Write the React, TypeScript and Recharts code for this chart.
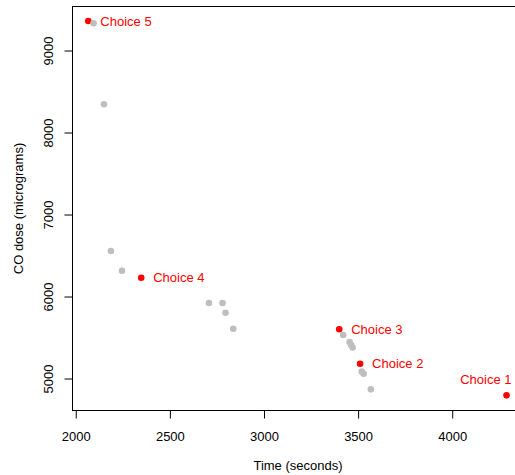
import React from "react";
import {
  ScatterChart,
  Scatter,
  XAxis,
  YAxis,
} from "recharts";

// highlighted choices (red, labelled)
const choiceNames = ["Choice 1", "Choice 2", "Choice 3", "Choice 4", "Choice 5"];
const choiceTime = [4286, 3508, 3397, 2345, 2064];
const choiceDose = [4801, 5187, 5606, 6235, 9366];

// the rest of the options (grey)
const otherTime = [2092, 2147, 2184, 2243, 2705, 2777, 2793, 2834, 3418, 3452, 3460, 3468, 3517, 3527, 3565];
const otherDose = [9338, 8350, 6561, 6321, 5927, 5927, 5809, 5613, 5537, 5450, 5415, 5385, 5090, 5065, 4874];

const xTicks = [2000, 2500, 3000, 3500, 4000];
const yTicks = [5000, 6000, 7000, 8000, 9000];

// labels drawn above the point instead of to the right
const labelAbove = ["Choice 1"];

const choices = choiceNames.map((name, i) => ({ name, time: choiceTime[i], dose: choiceDose[i] }));
const others = otherTime.map((time, i) => ({ time, dose: otherDose[i] }));

const FONT = "'Liberation Sans', Arial, Helvetica, sans-serif";
const X_DOMAIN = [1980, 4376];
const Y_DOMAIN = [4616, 9543];

const ChoiceDot = (props: any) => {
  const { cx, cy, payload } = props;
  const above = labelAbove.includes(payload.name);
  return (
    <g>
      <circle cx={cx} cy={cy} r={3.3} fill="#FF0000" />
      <text
        x={above ? cx + 5 : cx + 12}
        y={above ? cy - 11 : cy + 4.7}
        textAnchor={above ? "end" : "start"}
        fill="#FF0000"
        fontSize={13}
        fontFamily={FONT}
      >
        {payload.name}
      </text>
    </g>
  );
};

const GreyDot = (props: any) => (
  <circle cx={props.cx} cy={props.cy} r={3.3} fill="#BEBEBE" />
);

const YTick = (props: any) => {
  const { x, y, payload } = props;
  return (
    <text
      x={x}
      y={y}
      transform={`rotate(-90 ${x} ${y})`}
      textAnchor="middle"
      fill="#000"
      fontSize={13}
      fontFamily={FONT}
    >
      {payload.value}
    </text>
  );
};

export default function App() {
  return (
    <div style={{ position: "absolute", left: 0, top: 0, width: 515, height: 475, overflow: "hidden", background: "#fff" }}>
      <ScatterChart
        width={540}
        height={475}
        margin={{ top: 6.5, right: 16.5, bottom: 0, left: 0 }}
      >
        <XAxis
          type="number"
          dataKey="time"
          domain={X_DOMAIN}
          ticks={xTicks}
          allowDataOverflow
          stroke="#000000"
          axisLine={false}
          tickSize={8}
          tickMargin={13}
          height={64.5}
          tick={{ fill: "#000", fontSize: 13, fontFamily: FONT }}
          label={{
            value: "Time (seconds)",
            position: "insideBottom",
            offset: 5.5,
            fill: "#000",
            fontSize: 13,
            fontFamily: FONT,
          }}
        />
        <YAxis
          type="number"
          dataKey="dose"
          domain={Y_DOMAIN}
          ticks={yTicks}
          allowDataOverflow
          stroke="#000000"
          axisLine={false}
          tickSize={8}
          tickMargin={11}
          width={72.5}
          tick={<YTick />}
          label={{
            value: "CO dose (micrograms)",
            angle: -90,
            position: "center",
            dx: -18.25,
            fill: "#000",
            fontSize: 13,
            fontFamily: FONT,
          }}
        />
        <Scatter data={choices} shape={<ChoiceDot />} isAnimationActive={false} />
        <Scatter data={others} shape={<GreyDot />} isAnimationActive={false} />
      </ScatterChart>
      {/* box round the plotting region */}
      <div
        style={{
          position: "absolute",
          left: 72,
          top: 6,
          width: 460,
          height: 405,
          boxSizing: "border-box",
          border: "1px solid #000",
          pointerEvents: "none",
        }}
      />
    </div>
  );
}
